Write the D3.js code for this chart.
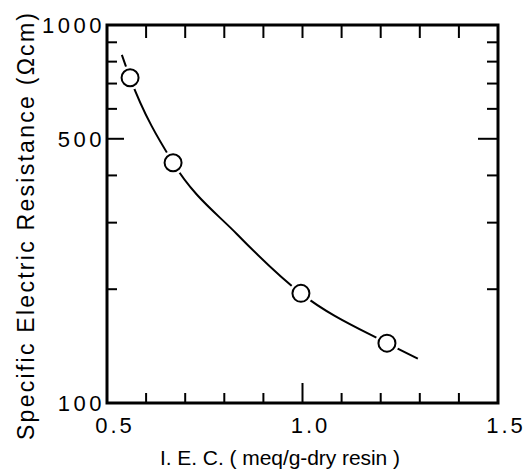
<!DOCTYPE html>
<html>
<head>
<meta charset="utf-8">
<script src="https://d3js.org/d3.v7.min.js"></script>
<style>
  body { margin: 0; background: #fff; }
  text { font-family: "Liberation Sans", Arial, Helvetica, sans-serif; fill: #000; }
</style>
</head>
<body>
<svg width="532" height="474"></svg>
<script>
// measured points
var iec = [0.559, 0.669, 0.996, 1.216];
var resistance = [725, 432, 195, 144];
// hand-drawn fitted curve
var fitIec = [0.538, 0.559, 0.669, 0.832, 0.996, 1.216, 1.295];
var fitRes = [834, 725, 432, 280, 195, 144, 131];
// ticks
var xMajor = [0.5, 1.0, 1.5];
var xLabels = ["0.5", "1.0", "1.5"];
var xMinor = [0.6, 0.7, 0.8, 0.9, 1.1, 1.2, 1.3, 1.4];
var yMajor = [100, 500, 1000];
var yLabels = ["100", "500", "1000"];
var yMinor = [200, 300, 400, 600, 700, 800, 900];

var plotL = 107, plotR = 498, plotT = 25, plotB = 403;

var x = d3.scaleLinear().domain([0.5, 1.5]).range([plotL, plotR]);
var y = d3.scaleLog().domain([100, 1000]).range([plotB, plotT]);

var svg = d3.select("svg");

// ticks
function ticks(vals, len, pos, dir, w) {
  svg.append("g").selectAll("line").data(vals).enter().append("line")
    .attr("x1", function(d){ return pos === "x" ? x(d) : dir.x0; })
    .attr("x2", function(d){ return pos === "x" ? x(d) : dir.x0 + dir.s * len; })
    .attr("y1", function(d){ return pos === "x" ? dir.y0 : y(d); })
    .attr("y2", function(d){ return pos === "x" ? dir.y0 + dir.s * len : y(d); })
    .attr("stroke", "#000").attr("stroke-width", w);
}
ticks(xMinor, 10, "x", {y0: plotB, s: -1}, 2);
ticks([1.0], 20, "x", {y0: plotB, s: -1}, 2);
ticks(xMinor.concat([1.0]), 13, "x", {y0: plotT, s: 1}, 2);
ticks(yMinor, 10, "y", {x0: plotL, s: 1}, 2);
ticks([500], 17, "y", {x0: plotL, s: 1}, 2);
ticks(yMinor, 11, "y", {x0: plotR, s: -1}, 2);
ticks([500], 20, "y", {x0: plotR, s: -1}, 2);

// frame
svg.append("rect")
  .attr("x", x(0.5)).attr("y", y(1000))
  .attr("width", x(1.5) - x(0.5)).attr("height", y(100) - y(1000))
  .attr("fill", "none").attr("stroke", "#000").attr("stroke-width", 3);

// tick labels
svg.append("g").selectAll("text").data(xMajor).enter().append("text")
  .attr("x", function(d){ return x(d) + 8; })
  .attr("y", 433)
  .attr("text-anchor", "middle")
  .style("font-size", "22px").style("letter-spacing", "3px")
  .text(function(d, i){ return xLabels[i]; });

svg.append("g").selectAll("text").data(yMajor).enter().append("text")
  .attr("x", 105)
  .attr("y", function(d){ return y(d) + 8; })
  .attr("text-anchor", "end")
  .style("font-size", "22px").style("letter-spacing", "3.5px")
  .text(function(d, i){ return yLabels[i]; });

// axis titles
svg.append("text")
  .attr("x", 160).attr("y", 465)
  .attr("textLength", 240).attr("lengthAdjust", "spacing")
  .style("font-size", "21px")
  .text("I. E. C. ( meq/g-dry resin )");

svg.append("text")
  .attr("transform", "translate(34,440) rotate(-90)")
  .attr("textLength", 427).attr("lengthAdjust", "spacing")
  .style("font-size", "23px")
  .text("Specific Electric Resistance (\u03A9cm)");

// curve
var pts = fitIec.map(function(d, i){ return [x(d), y(fitRes[i])]; });
svg.append("path")
  .attr("d", d3.line().curve(d3.curveMonotoneX)(pts))
  .attr("fill", "none").attr("stroke", "#000").attr("stroke-width", 2);

// points with white halo to break the curve
var g = svg.append("g").selectAll("g").data(iec).enter().append("g");
g.append("circle")
  .attr("cx", function(d){ return x(d); })
  .attr("cy", function(d, i){ return y(resistance[i]); })
  .attr("r", 12).attr("fill", "#fff");
g.append("circle")
  .attr("cx", function(d){ return x(d); })
  .attr("cy", function(d, i){ return y(resistance[i]); })
  .attr("r", 8.5).attr("fill", "#fff").attr("stroke", "#000").attr("stroke-width", 2);
</script>
</body>
</html>
